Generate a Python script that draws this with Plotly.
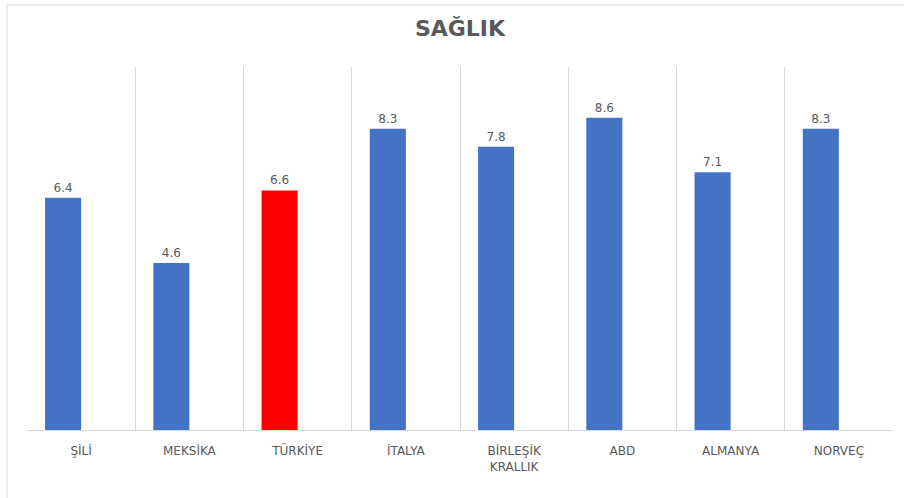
import plotly.graph_objects as go

categories = ["ŞİLİ", "MEKSİKA", "TÜRKİYE", "İTALYA", "BİRLEŞİK<br>KRALLIK", "ABD", "ALMANYA", "NORVEÇ"]
values = [6.4, 4.6, 6.6, 8.3, 7.8, 8.6, 7.1, 8.3]
bar_colors = ["#4472C4", "#4472C4", "#FF0000", "#4472C4", "#4472C4", "#4472C4", "#4472C4", "#4472C4"]
empty_series = [None] * len(categories)

fig = go.Figure()
fig.add_trace(go.Bar(
    x=categories, y=values,
    marker=dict(color=bar_colors, line=dict(width=0)),
    text=[f"{v:.1f}" for v in values],
    textposition="outside",
    textfont=dict(family="DejaVu Sans", size=12, color="#595959"),
    cliponaxis=False,
    showlegend=False,
    hoverinfo="x+y",
))
fig.add_trace(go.Bar(
    x=categories, y=empty_series,
    marker=dict(color="#ED7D31"),
    showlegend=False,
))

fig.update_layout(
    width=904, height=498, autosize=False,
    paper_bgcolor="white", plot_bgcolor="white",
    margin=dict(l=27, r=11, t=67, b=68, pad=0, autoexpand=False),
    barmode="group", bargap=1/3, bargroupgap=0,
    title=dict(text="<b>SAĞLIK</b>", x=0.5, xanchor="center", xref="paper",
               y=(498 - 28) / 498, yref="container", yanchor="middle", automargin=False,
               font=dict(family="DejaVu Sans", size=22, color="#595959")),
    xaxis=dict(
        type="category", tickson="boundaries", showgrid=True, gridcolor="#D9D9D9", gridwidth=1,
        showline=True, linecolor="#D9D9D9", linewidth=1, ticks="", automargin=False,
        tickfont=dict(family="DejaVu Sans", size=12, color="#595959"),
        ticklabelstandoff=10,
        range=[-0.5, 7.5], zeroline=False,
    ),
    yaxis=dict(range=[0, 10], showgrid=False, showticklabels=False, zeroline=False,
               ticks="", automargin=False),
    shapes=[dict(type="rect", xref="paper", yref="paper",
                 x0=(7 - 27) / 866, x1=(920 - 27) / 866,
                 y0=(430 - 520) / 363, y1=(430 - 5) / 363,
                 line=dict(color="#E6E6E6", width=1.5), fillcolor="rgba(0,0,0,0)", layer="below")],
)

fig.write_html("out.html",
               config={"displayModeBar": False},
               post_script="document.body.style.margin='0';document.body.style.overflow='hidden';")
